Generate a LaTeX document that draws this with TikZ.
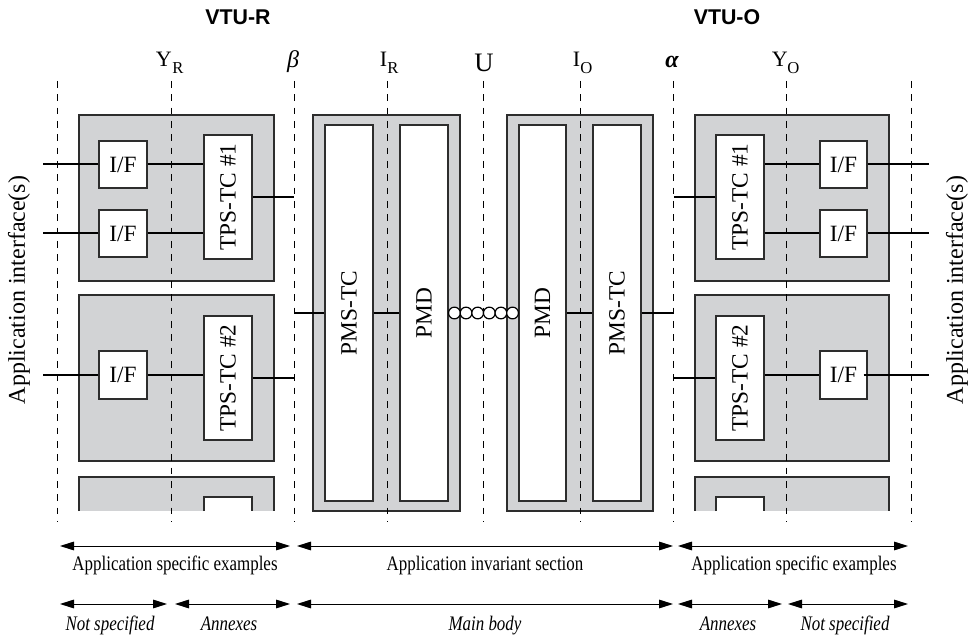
\documentclass[tikz,border=0pt]{standalone}
\usepackage{fontspec}
\setmainfont{Liberation Serif}
\newfontfamily\condfont{Liberation Serif}[FakeStretch=0.82]
\newfontfamily\headfont{Liberation Sans}
\usetikzlibrary{arrows.meta,calc}
\definecolor{boxgrey}{RGB}{210,211,213}
\definecolor{edge}{RGB}{45,45,45}
\begin{document}
\begin{tikzpicture}[x=0.75pt,y=-0.75pt,
  sz/.style 2 args={minimum width=#1*0.75pt,minimum height=#2*0.75pt},
  greybox/.style={fill=boxgrey,draw=edge,line width=0.9pt},
  wbox/.style={fill=white,draw=edge,line width=0.9pt,inner sep=0pt,
    font=\fontsize{17.5}{19}\selectfont},
  guide/.style={line width=0.7pt,dash pattern=on 5pt off 5pt},
  conn/.style={line width=1.5pt},
  coil/.style={line width=0.9pt,fill=white},
  lbl/.style={inner sep=0pt,font=\fontsize{16.5}{18}\selectfont},
  sublbl/.style={inner sep=0pt,font=\fontsize{12.5}{13}\selectfont},
  head/.style={inner sep=0pt,font=\headfont\bfseries\fontsize{16}{18}\selectfont},
  side/.style={inner sep=0pt,rotate=90,font=\fontsize{18}{20}\selectfont},
  dim/.style={line width=0.7pt,{Triangle[length=10.5pt,width=6.5pt]}-{Triangle[length=10.5pt,width=6.5pt]}},
  dimtxt/.style={inner sep=0pt,anchor=base,font=\condfont\fontsize{15.5}{16}\selectfont},
  dimit/.style={inner sep=0pt,anchor=base,font=\condfont\itshape\fontsize{15.5}{16}\selectfont}]
\useasboundingbox (0,0) rectangle (972,638);

% ---------- grey outer boxes ----------
\draw[greybox] (79,115) rectangle (274,281);
\draw[greybox] (79,295) rectangle (274,461);
\fill[boxgrey] (79,477) rectangle (274,511);
\draw[edge,line width=0.9pt] (79,511) -- (79,477) -- (274,477) -- (274,511);
\fill[white] (204,497) rectangle (252,511);
\draw[edge,line width=0.9pt] (204,511) -- (204,497) -- (252,497) -- (252,511);

\draw[greybox] (313,115) rectangle (460,511);
\draw[greybox] (507,115) rectangle (653,511);

\draw[greybox] (695,115) rectangle (889,281);
\draw[greybox] (695,295) rectangle (889,461);
\fill[boxgrey] (695,477) rectangle (889,511);
\draw[edge,line width=0.9pt] (695,511) -- (695,477) -- (889,477) -- (889,511);
\fill[white] (716,497) rectangle (764,511);
\draw[edge,line width=0.9pt] (716,511) -- (716,497) -- (764,497) -- (764,511);

% ---------- white boxes ----------
\node[wbox,sz={48}{47}] (ifA) at (123,164.5) {I/F};
\node[wbox,sz={48}{47}] (ifB) at (123,233.5) {I/F};
\node[wbox,sz={48}{124}] (tpsA) at (228,197) {\rotatebox{90}{TPS-TC \#1}};
\node[wbox,sz={48}{48}] (ifC) at (123,375) {I/F};
\node[wbox,sz={48}{124}] (tpsB) at (228,378) {\rotatebox{90}{TPS-TC \#2}};

\node[wbox,sz={48}{376}] (pmstcL) at (349,313) {\rotatebox{90}{PMS-TC}};
\node[wbox,sz={48}{376}] (pmdL) at (424,313) {\rotatebox{90}{PMD}};
\node[wbox,sz={47}{376}] (pmdR) at (542.5,313) {\rotatebox{90}{PMD}};
\node[wbox,sz={48}{376}] (pmstcR) at (617,313) {\rotatebox{90}{PMS-TC}};

\node[wbox,sz={48}{124}] (tpsC) at (740,197) {\rotatebox{90}{TPS-TC \#1}};
\node[wbox,sz={47}{47}] (ifD) at (843.5,164.5) {I/F};
\node[wbox,sz={47}{47}] (ifE) at (843.5,233.5) {I/F};
\node[wbox,sz={48}{124}] (tpsD) at (740,378) {\rotatebox{90}{TPS-TC \#2}};
\node[wbox,sz={47}{48}] (ifF) at (843.5,375) {I/F};

% ---------- reference lines ----------
\coordinate (nsL) at (57,81);
\coordinate (yR) at (171,81);
\coordinate (beta) at (294,81);
\coordinate (iR) at (387,81);
\coordinate (uu) at (483,81);
\coordinate (iO) at (580,81);
\coordinate (alpha) at (673.5,81);
\coordinate (yO) at (786,81);
\coordinate (nsR) at (911,81);
\foreach \c in {nsL,yR,beta,iR,uu,iO,alpha,yO,nsR}
  \draw[guide] (\c) -- ++(0,441);

% ---------- connectors ----------
\coordinate (apL) at (43,0);
\coordinate (apR) at (929,0);
\draw[conn] (ifA.west) -- (ifA.west -| apL);
\draw[conn] (ifA.east) -- (ifA.east -| tpsA.west);
\draw[conn] (ifB.west) -- (ifB.west -| apL);
\draw[conn] (ifB.east) -- (ifB.east -| tpsA.west);
\draw[conn] (tpsA.east) -- (tpsA.east -| beta);
\draw[conn] (ifC.west) -- (ifC.west -| apL);
\draw[conn] (ifC.east) -- (ifC.east -| tpsB.west);
\draw[conn] (tpsB.east) -- (tpsB.east -| beta);

\draw[conn] (pmstcL.west -| beta) -- (pmstcL.west);
\draw[conn] (pmstcL.east) -- (pmdL.west);
\draw[conn] (pmdR.east) -- (pmstcR.west);
\draw[conn] (pmstcR.east) -- (pmstcR.east -| alpha);
\foreach \k in {0,...,5}
  \draw[coil] ($(pmdL.east)!{(\k+0.5)/6}!(pmdR.west)$) circle[radius=4.4pt];

\draw[conn] (tpsC.west) -- (tpsC.west -| alpha);
\draw[conn] (tpsC.east |- ifD.west) -- (ifD.west);
\draw[conn] (ifD.east) -- (ifD.east -| apR);
\draw[conn] (tpsC.east |- ifE.west) -- (ifE.west);
\draw[conn] (ifE.east) -- (ifE.east -| apR);
\draw[conn] (tpsD.west) -- (tpsD.west -| alpha);
\draw[conn] (tpsD.east |- ifF.west) -- (ifF.west);
\draw[conn] ([xshift=-3pt]ifF.east) -- (ifF.east -| apR);

% ---------- labels ----------
\node[head] (vtur) at (238,17) {VTU-R};
\node[head] (vtuo) at (727,17) {VTU-O};

\node[lbl,anchor=base east] (yRl) at (172,67) {Y};
\node[sublbl,anchor=base west] (yRs) at (172,74) {R};
\node[lbl,anchor=base,font=\fontsize{18}{20}\selectfont] (betal) at (293,68) {\itshape β};
\node[lbl,anchor=base east] (iRl) at (387.5,67) {I};
\node[sublbl,anchor=base west] (iRs) at (387,74) {R};
\node[lbl,anchor=base,font=\fontsize{20}{22}\selectfont] (ul) at (484,72) {U};
\node[lbl,anchor=base east] (iOl) at (580.5,67) {I};
\node[sublbl,anchor=base west] (iOs) at (580,74) {O};
\node[lbl,anchor=base,font=\fontsize{18}{20}\selectfont] (alphal) at (672,68) {\bfseries\itshape α};
\node[lbl,anchor=base east] (yOl) at (788,67) {Y};
\node[sublbl,anchor=base west] (yOs) at (787,74) {O};

\node[side] (appL) at (19,290) {Application interface(s)};
\node[side] (appR) at (957,290) {Application interface(s)};

% ---------- extent arrows ----------
\coordinate (r1a) at (60,546);  \coordinate (r1b) at (290,546);
\coordinate (r1c) at (297,546); \coordinate (r1d) at (673,546);
\coordinate (r1e) at (678,546); \coordinate (r1f) at (908,546);
\draw[dim] (r1a) -- (r1b);
\draw[dim] (r1c) -- (r1d);
\draw[dim] (r1e) -- (r1f);
\node[dimtxt] (t1a) at (175,570) {Application specific examples};
\node[dimtxt] (t1b) at (485,570) {Application invariant section};
\node[dimtxt] (t1c) at (794,570) {Application specific examples};

\coordinate (r2a) at (60,604);  \coordinate (r2b) at (167,604);
\coordinate (r2c) at (175,604); \coordinate (r2d) at (290,604);
\coordinate (r2e) at (297,604); \coordinate (r2f) at (673,604);
\coordinate (r2g) at (678,604); \coordinate (r2h) at (782,604);
\coordinate (r2i) at (788,604); \coordinate (r2j) at (908,604);
\draw[dim] (r2a) -- (r2b);
\draw[dim] (r2c) -- (r2d);
\draw[dim] (r2e) -- (r2f);
\draw[dim] (r2g) -- (r2h);
\draw[dim] (r2i) -- (r2j);
\node[dimit] (t2a) at (110,630) {Not specified};
\node[dimit] (t2b) at (229,630) {Annexes};
\node[dimit] (t2c) at (485,630) {Main body};
\node[dimit] (t2d) at (728,630) {Annexes};
\node[dimit] (t2e) at (845,630) {Not specified};
\end{tikzpicture}
\end{document}
